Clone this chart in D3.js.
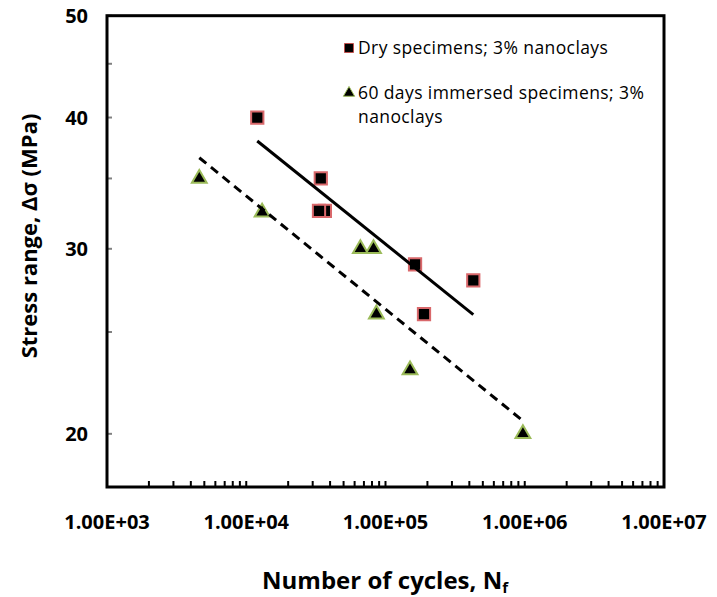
<!DOCTYPE html>
<html>
<head>
  <meta charset="utf-8">
  <title>Stress range vs number of cycles</title>
  <style>
    body {
      margin: 0;
      background: #fff;
    }

    .axis-label {
      font: bold 20px "Open Sans", sans-serif;
      fill: #000;
    }

    .axis-title {
      font: bold 22px "Open Sans", sans-serif;
      fill: #000;
    }

    .legend text {
      font: 17.5px "Open Sans", sans-serif;
      letter-spacing: 0.4px;
      fill: #000;
    }
  </style>
  <script src="https://d3js.org/d3.v7.min.js"></script>
</head>
<body>
  <script>
    // dry specimens, 3% nanoclays
    var dryCycles = [12000, 36700, 33300, 34300, 163000, 427000, 189000];
    var dryStress = [40, 32.6, 32.6, 35, 29, 28, 26];

    // 60 days immersed specimens, 3% nanoclays
    var wetCycles = [4600, 13000, 66000, 82000, 86000, 150000, 970000];
    var wetStress = [35, 32.5, 30, 30, 26, 23, 20];

    var xTicks = [1e3, 1e4, 1e5, 1e6, 1e7];
    var yTicks = [20, 30, 40, 50];
    var yMinor = [25, 35, 45];

    var width = 717;
    var height = 597;
    var margin = {top: 15.7, right: 53, bottom: 110, left: 107};

    var svg = d3.select('body').append('svg')
      .attr('width', width)
      .attr('height', height);

    var x = d3.scaleLog()
      .domain([1e3, 1e7])
      .range([margin.left, width - margin.right]);

    var y = d3.scaleLog()
      .domain([17.8, 50])
      .range([height - margin.bottom, margin.top]);

    var x0 = margin.left, x1 = width - margin.right;
    var y0 = height - margin.bottom, y1 = margin.top;

    // x ticks: every 1..9 x 10^k, drawn inward
    var xMinor = [];
    for (var k = 3; k < 7; k++) {
      for (var m = 1; m < 10; m++) xMinor.push(m * Math.pow(10, k));
    }
    xMinor.push(1e7);

    svg.append('g')
      .selectAll('line')
      .data(xMinor)
      .enter()
      .append('line')
        .attr('x1', d => x(d))
        .attr('x2', d => x(d))
        .attr('y1', y0)
        .attr('y2', y0 - 6)
        .attr('stroke', '#000')
        .attr('stroke-width', 2);

    svg.append('g')
      .selectAll('line')
      .data(yTicks.concat(yMinor))
      .enter()
      .append('line')
        .attr('x1', x0)
        .attr('x2', x0 + 5)
        .attr('y1', d => y(d))
        .attr('y2', d => y(d))
        .attr('stroke', '#808080')
        .attr('stroke-width', 2);

    svg.append('rect')
      .attr('x', x0)
      .attr('y', y1)
      .attr('width', x1 - x0)
      .attr('height', y0 - y1)
      .attr('fill', 'none')
      .attr('stroke', '#000')
      .attr('stroke-width', 3);

    svg.append('g')
      .selectAll('text')
      .data(yTicks)
      .enter()
      .append('text')
        .attr('class', 'axis-label')
        .attr('x', x0 - 19)
        .attr('y', d => y(d))
        .attr('dy', '.35em')
        .attr('text-anchor', 'end')
        .text(d => d);

    svg.append('g')
      .selectAll('text')
      .data(xTicks)
      .enter()
      .append('text')
        .attr('class', 'axis-label')
        .attr('x', d => x(d))
        .attr('y', 529)
        .attr('text-anchor', 'middle')
        .text(d => d3.format('.2e')(d).toUpperCase().replace(/E\+(\d)$/, 'E+0$1'));

    svg.append('text')
      .attr('class', 'axis-title')
      .attr('transform', 'translate(37,236) rotate(-90)')
      .attr('text-anchor', 'middle')
      .text('Stress range, Δσ (MPa)');

    var xt = svg.append('text')
      .attr('class', 'axis-title')
      .style('font-size', '24px')
      .attr('x', 385)
      .attr('y', 589)
      .attr('text-anchor', 'middle');
    xt.append('tspan').text('Number of cycles, N');
    xt.append('tspan').attr('font-size', '15px').attr('dy', 4).text('f');

    // markers
    var dry = dryCycles.map((c, i) => ({n: c, s: dryStress[i]}));
    var wet = wetCycles.map((c, i) => ({n: c, s: wetStress[i]}));

    var square = d3.symbol().type(d3.symbolSquare).size(150);
    var triangle = d3.symbol().type(d3.symbolTriangle).size(95);

    svg.append('g')
      .selectAll('path')
      .data(dry)
      .enter()
      .append('path')
        .attr('d', square)
        .attr('transform', d => 'translate(' + x(d.n) + ',' + y(d.s) + ')')
        .attr('fill', '#000')
        .attr('stroke', '#d9686b')
        .attr('stroke-width', 2);

    svg.append('g')
      .selectAll('path')
      .data(wet)
      .enter()
      .append('path')
        .attr('d', triangle)
        .attr('transform', d => 'translate(' + x(d.n) + ',' + y(d.s) + ')')
        .attr('fill', '#000')
        .attr('stroke', '#9bbb59')
        .attr('stroke-width', 2);

    // power-law trend lines (least squares in log-log space)
    function powerFit(pts) {
      var lx = pts.map(p => Math.log10(p.n));
      var ly = pts.map(p => Math.log10(p.s));
      var mx = d3.mean(lx), my = d3.mean(ly);
      var sxy = d3.sum(lx, (v, i) => (v - mx) * (ly[i] - my));
      var sxx = d3.sum(lx, v => (v - mx) * (v - mx));
      var b = sxy / sxx;
      var ext = d3.extent(pts, p => p.n);
      return ext.map(n => ({n: n, s: Math.pow(10, my + b * (Math.log10(n) - mx))}));
    }

    var line = d3.line()
      .x(d => x(d.n))
      .y(d => y(d.s));

    svg.append('path')
      .datum(powerFit(dry))
      .attr('d', line)
      .attr('fill', 'none')
      .attr('stroke', '#000')
      .attr('stroke-width', 3);

    svg.append('path')
      .datum(powerFit(wet))
      .attr('d', line)
      .attr('fill', 'none')
      .attr('stroke', '#000')
      .attr('stroke-width', 3)
      .attr('stroke-dasharray', '9,6');

    // legend
    var legend = svg.append('g').attr('class', 'legend');

    legend.append('path')
      .attr('d', d3.symbol().type(d3.symbolSquare).size(80))
      .attr('transform', 'translate(349,48)')
      .attr('fill', '#000')
      .attr('stroke', '#c0504d')
      .attr('stroke-width', 1);
    legend.append('text')
      .attr('x', 358)
      .attr('y', 54)
      .text('Dry specimens; 3% nanoclays');

    legend.append('path')
      .attr('d', d3.symbol().type(d3.symbolTriangle).size(55))
      .attr('transform', 'translate(349,93)')
      .attr('fill', '#000')
      .attr('stroke', '#9bbb59')
      .attr('stroke-width', 1);
    legend.append('text')
      .attr('x', 358)
      .attr('y', 99)
      .text('60 days immersed specimens; 3%');
    legend.append('text')
      .attr('x', 358)
      .attr('y', 123)
      .text('nanoclays');
  </script>
</body>
</html>
